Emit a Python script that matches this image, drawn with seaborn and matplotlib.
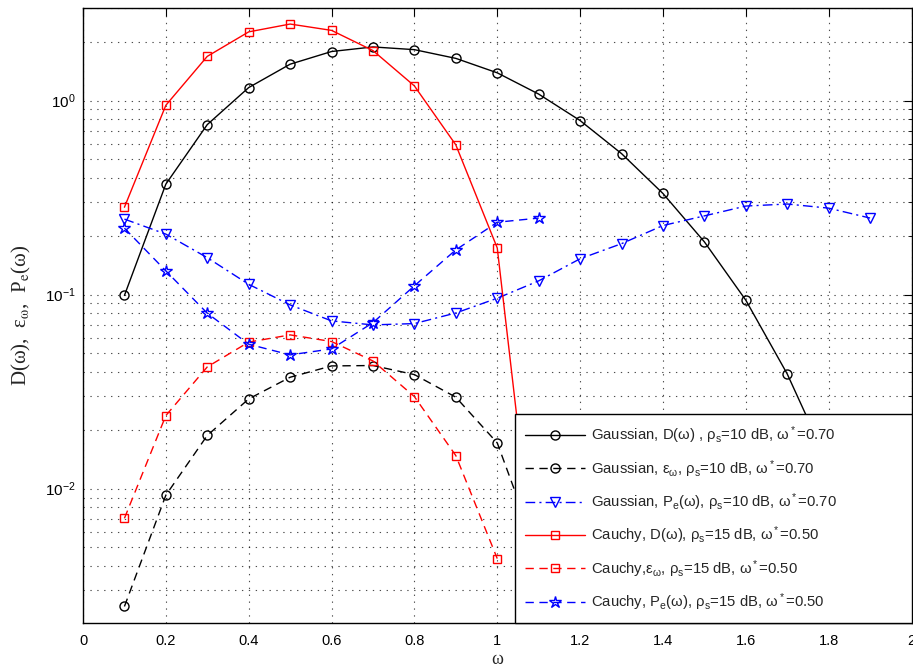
import numpy as np
import pandas as pd
import matplotlib
matplotlib.use("Agg")
import matplotlib.pyplot as plt
import seaborn as sns
from matplotlib.ticker import FixedLocator, FuncFormatter, LogLocator, NullFormatter

# ---------------- data ----------------
omega_gD = [0.1, 0.2, 0.3, 0.4, 0.5, 0.6, 0.7, 0.8, 0.9, 1.0, 1.1, 1.2, 1.3, 1.4, 1.5, 1.6, 1.7, 1.8]
gauss_D = [0.099, 0.371, 0.752, 1.167, 1.54, 1.79, 1.89, 1.83, 1.65, 1.39, 1.08, 0.789, 0.533, 0.332,
           0.187, 0.0936, 0.039, 0.0133]

omega_gE = [0.1, 0.2, 0.3, 0.4, 0.5, 0.6, 0.7, 0.8, 0.9, 1.0, 1.1]
gauss_eps = [0.00247, 0.00925, 0.0188, 0.029, 0.0375, 0.0429, 0.0431, 0.0387, 0.0296, 0.0172, 0.0045]

omega_gP = [0.1, 0.2, 0.3, 0.4, 0.5, 0.6, 0.7, 0.8, 0.9, 1.0, 1.1, 1.2, 1.3, 1.4, 1.5, 1.6, 1.7, 1.8, 1.9]
gauss_Pe = [0.245, 0.205, 0.155, 0.113, 0.0885, 0.0732, 0.0698, 0.0709, 0.0804, 0.0958, 0.1177, 0.153,
            0.183, 0.227, 0.2545, 0.286, 0.293, 0.279, 0.248]

omega_cD = [0.1, 0.2, 0.3, 0.4, 0.5, 0.6, 0.7, 0.8, 0.9, 1.0, 1.1]
cauchy_D = [0.282, 0.946, 1.69, 2.26, 2.48, 2.30, 1.81, 1.19, 0.591, 0.174, 0.0025]

omega_cE = [0.1, 0.2, 0.3, 0.4, 0.5, 0.6, 0.7, 0.8, 0.9, 1.0]
cauchy_eps = [0.00703, 0.0238, 0.0424, 0.0569, 0.062, 0.0573, 0.0455, 0.0298, 0.0148, 0.00436]

omega_cP = [0.1, 0.2, 0.3, 0.4, 0.5, 0.6, 0.7, 0.8, 0.9, 1.0, 1.1]
cauchy_Pe = [0.22, 0.1325, 0.0802, 0.0555, 0.0489, 0.0525, 0.0717, 0.111, 0.170, 0.236, 0.248]

labels = [
    "Gaussian, D(ω) , ρ$_\\mathrm{s}$=10 dB, ω$^*$=0.70",
    "Gaussian, ε$_\\mathrm{ω}$, ρ$_\\mathrm{s}$=10 dB, ω$^*$=0.70",
    "Gaussian, P$_\\mathrm{e}$(ω), ρ$_\\mathrm{s}$=10 dB, ω$^*$=0.70",
    "Cauchy, D(ω), ρ$_\\mathrm{s}$=15 dB, ω$^*$=0.50",
    "Cauchy,ε$_\\mathrm{ω}$, ρ$_\\mathrm{s}$=15 dB, ω$^*$=0.50",
    "Cauchy, P$_\\mathrm{e}$(ω), ρ$_\\mathrm{s}$=15 dB, ω$^*$=0.50",
]
x_ticks = [0, 0.2, 0.4, 0.6, 0.8, 1.0, 1.2, 1.4, 1.6, 1.8, 2.0]

# ---------------- style ----------------
sns.set_theme(style="white")
plt.rcParams['font.family'] = ['Liberation Sans', 'DejaVu Sans']
plt.rcParams['mathtext.fontset'] = 'custom'
plt.rcParams['mathtext.rm'] = 'Liberation Sans'
plt.rcParams['mathtext.it'] = 'Liberation Sans'
plt.rcParams['mathtext.sf'] = 'Liberation Sans'
plt.rcParams['mathtext.default'] = 'rm'

fig = plt.figure(figsize=(9.13, 6.69), dpi=100)
ax = fig.add_axes([83 / 913, 1 - 623 / 669, 828.5 / 913, 615 / 669])

dash = (0, (6, 4))
dashdot = (0, (7, 3, 1.5, 3))

series = [
    (omega_gD, gauss_D, 'black', 'o', '-', 6.5),
    (omega_gE, gauss_eps, 'black', 'o', dash, 6.5),
    (omega_gP, gauss_Pe, 'blue', 'v', dashdot, 7.5),
    (omega_cD, cauchy_D, 'red', 's', '-', 5.5),
    (omega_cE, cauchy_eps, 'red', 's', dash, 5.5),
    (omega_cP, cauchy_Pe, 'blue', '*', dash, 9),
]

handles = []
for (xs, ys, c, m, ls, ms), lab in zip(series, labels):
    df = pd.DataFrame({'omega': xs, 'val': ys})
    sns.lineplot(data=df, x='omega', y='val', ax=ax, color=c, marker=m, markersize=ms,
                 markerfacecolor='none', markeredgecolor=c, markeredgewidth=1.0,
                 linewidth=1.0, linestyle=ls, label=lab, legend=False, errorbar=None)
    handles.append(ax.lines[-1])

ax.set_yscale('log')
ax.set_xlim(0, 2)
ax.set_ylim(2.03e-3, 3.0)

ax.xaxis.set_major_locator(FixedLocator(x_ticks))
ax.xaxis.set_major_formatter(FuncFormatter(lambda v, p: f"{v:g}"))
ax.yaxis.set_major_locator(LogLocator(base=10))
ax.yaxis.set_minor_locator(LogLocator(base=10, subs=np.arange(2, 10)))
ax.yaxis.set_minor_formatter(NullFormatter())

ax.tick_params(which='both', direction='in', top=True, right=True, colors='black')
ax.tick_params(which='major', length=6, width=0.8)
ax.tick_params(which='minor', length=3, width=0.6)
ax.tick_params(axis='x', pad=8, labelsize=10.5)
ax.tick_params(axis='y', pad=5, labelsize=11)

grid_kw = dict(color='black', linestyle=(0, (1.2, 5)), linewidth=0.8, alpha=0.7)
ax.grid(True, which='major', axis='both', **grid_kw)
ax.grid(True, which='minor', axis='y', **grid_kw)

for sp in ax.spines.values():
    sp.set_color('black')
    sp.set_linewidth(1.0)

ax.set_xlabel('ω', family=['Liberation Serif', 'DejaVu Serif'], fontsize=13, labelpad=2)
ax.set_ylabel('D(ω),  ε$_\\mathrm{ω}$,  P$_\\mathrm{e}$(ω)', family=['Liberation Serif', 'DejaVu Serif'],
              fontsize=15, labelpad=9, math_fontfamily='stix')

x0 = (516 - 83) / 830
leg = ax.legend(handles=handles, labels=labels, loc='lower left', bbox_to_anchor=(x0, 0, 1 - x0, 0.3),
                mode='expand', borderaxespad=0, fontsize=10.7, numpoints=1, handlelength=4.0,
                handletextpad=0.45, labelspacing=0.79, borderpad=0.68, fancybox=False,
                framealpha=1, edgecolor='black', facecolor='white')
leg.get_frame().set_linewidth(1.0)

fig.savefig('out.png', dpi=100)
